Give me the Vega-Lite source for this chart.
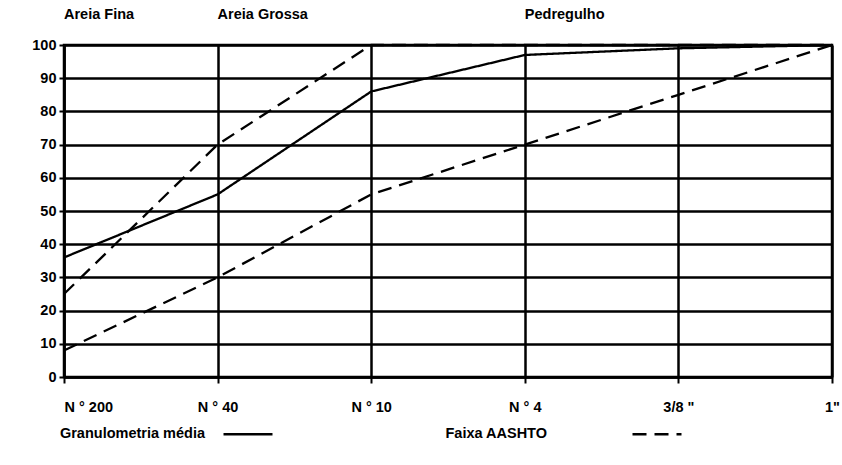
{
  "$schema": "https://vega.github.io/schema/vega-lite/v6.json",
  "width": 768,
  "height": 332,
  "autosize": "none",
  "padding": {"left": 64, "top": 45, "right": 10, "bottom": 88},
  "background": "white",
  "config": {
    "font": "Liberation Sans",
    "view": {"stroke": "black", "strokeWidth": 2.5},
    "axis": {
      "grid": true,
      "gridColor": "black",
      "gridWidth": 2.5,
      "gridOpacity": 1,
      "domainColor": "black",
      "domainWidth": 2.5,
      "tickColor": "black",
      "tickWidth": 2,
      "labelFont": "Liberation Sans",
      "labelFontSize": 14.5,
      "labelFontWeight": "bold",
      "labelColor": "black",
      "title": null
    }
  },
  "datasets": {
    "curves": [
      {"sieve": "N ° 200", "value": 36, "series": "media", "legend": "Granulometria média"},
      {"sieve": "N ° 40", "value": 55, "series": "media", "legend": "Granulometria média"},
      {"sieve": "N ° 10", "value": 86, "series": "media", "legend": "Granulometria média"},
      {"sieve": "N ° 4", "value": 97, "series": "media", "legend": "Granulometria média"},
      {"sieve": "3/8 \"", "value": 99, "series": "media", "legend": "Granulometria média"},
      {"sieve": "1\"", "value": 100, "series": "media", "legend": "Granulometria média"},
      {"sieve": "N ° 200", "value": 25, "series": "sup", "legend": "Faixa AASHTO"},
      {"sieve": "N ° 40", "value": 70, "series": "sup", "legend": "Faixa AASHTO"},
      {"sieve": "N ° 10", "value": 100, "series": "sup", "legend": "Faixa AASHTO"},
      {"sieve": "N ° 4", "value": 100, "series": "sup", "legend": "Faixa AASHTO"},
      {"sieve": "3/8 \"", "value": 100, "series": "sup", "legend": "Faixa AASHTO"},
      {"sieve": "1\"", "value": 100, "series": "sup", "legend": "Faixa AASHTO"},
      {"sieve": "N ° 200", "value": 8, "series": "inf", "legend": "Faixa AASHTO"},
      {"sieve": "N ° 40", "value": 30, "series": "inf", "legend": "Faixa AASHTO"},
      {"sieve": "N ° 10", "value": 55, "series": "inf", "legend": "Faixa AASHTO"},
      {"sieve": "N ° 4", "value": 70, "series": "inf", "legend": "Faixa AASHTO"},
      {"sieve": "3/8 \"", "value": 85, "series": "inf", "legend": "Faixa AASHTO"},
      {"sieve": "1\"", "value": 100, "series": "inf", "legend": "Faixa AASHTO"}
    ],
    "zones": [
      {"sieve": "N ° 200", "value": 100, "zone": "Areia Fina"},
      {"sieve": "N ° 40", "value": 100, "zone": "Areia Grossa"},
      {"sieve": "N ° 4", "value": 100, "zone": "Pedregulho"}
    ]
  },
  "encoding": {
    "x": {
      "field": "sieve",
      "type": "ordinal",
      "sort": ["N ° 200", "N ° 40", "N ° 10", "N ° 4", "3/8 \"", "1\""],
      "scale": {"type": "point", "padding": 0},
      "axis": {
        "labelAngle": 0,
        "tickSize": 6,
        "labelPadding": 17,
        "labelAlign": {"expr": "datum.index === 0 ? 'left' : 'center'"},
        "labelBound": false,
        "labelOverlap": false
      }
    },
    "y": {
      "field": "value",
      "type": "quantitative",
      "scale": {"domain": [0, 100], "nice": false},
      "axis": {"values": [0, 10, 20, 30, 40, 50, 60, 70, 80, 90, 100], "tickSize": 5, "labelPadding": 3, "labelOverlap": false}
    }
  },
  "layer": [
    {
      "data": {"name": "curves"},
      "mark": {"type": "line", "color": "black", "strokeWidth": 2.3},
      "encoding": {
        "detail": {"field": "series"},
        "strokeDash": {
          "field": "legend",
          "type": "nominal",
          "scale": {"domain": ["Granulometria média", "Faixa AASHTO"], "range": [[1, 0], [14, 8]]},
          "legend": {
            "orient": "none",
            "legendX": 158,
            "legendY": 363,
            "direction": "horizontal",
            "title": null,
            "symbolType": "stroke",
            "symbolStrokeColor": "black",
            "symbolStrokeWidth": 2.3,
            "symbolSize": 2400,
            "labelFont": "Liberation Sans",
            "labelFontSize": 14.5,
            "labelFontWeight": "bold",
            "labelColor": "black",
            "labelAlign": "right",
            "labelOffset": -69,
            "labelLimit": 400,
            "columnPadding": 166,
            "padding": 0,
            "encode": {
              "labels": {
                "update": {
                  "dx": {"signal": "datum.value === 'Faixa AASHTO' ? -67 : 0"}
                }
              }
            }
          }
        }
      }
    },
    {
      "data": {"name": "zones"},
      "mark": {"type": "text", "align": "left", "dy": -30, "fontSize": 14.5, "fontWeight": "bold", "font": "Liberation Sans", "color": "black"},
      "encoding": {
        "text": {"field": "zone"}
      }
    }
  ]
}
